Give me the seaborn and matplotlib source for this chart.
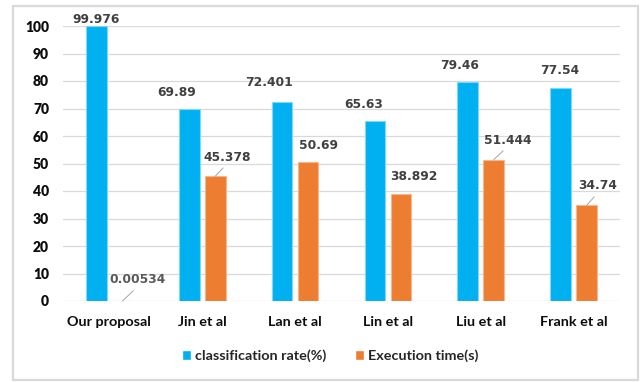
import matplotlib
matplotlib.use("Agg")
import matplotlib.pyplot as plt
from matplotlib.patches import Rectangle
import pandas as pd
import seaborn as sns

# Data
methods = ["Our proposal", "Jin et al", "Lan et al", "Lin et al", "Liu et al", "Frank et al"]
classification_rate = [99.976, 69.89, 72.401, 65.63, 79.46, 77.54]
execution_time = [0.00534, 45.378, 50.69, 38.892, 51.444, 34.74]
rate_labels = ["99.976", "69.89", "72.401", "65.63", "79.46", "77.54"]
time_labels = ["0.00534", "45.378", "50.69", "38.892", "51.444", "34.74"]
series_names = ["classification rate(%)", "Execution time(s)"]
y_ticks = [0, 10, 20, 30, 40, 50, 60, 70, 80, 90, 100]

BLUE = "#00B0F0"
ORANGE = "#ED7D31"
GRID = "#D9D9D9"
TEXT = "#404040"

df = pd.DataFrame({
    "method": methods * 2,
    "value": classification_rate + execution_time,
    "series": [series_names[0]] * len(methods) + [series_names[1]] * len(methods),
})

sns.set_theme(style="white")
plt.rcParams["font.family"] = ["DejaVu Sans"]

fig = plt.figure(figsize=(6.44, 3.82), dpi=100)
W, H = 644, 382
ax = fig.add_axes([63 / W, 1 - 301 / H, (620 - 63) / W, (301 - 26) / H])

sns.barplot(data=df, x="method", y="value", hue="series", order=methods,
            hue_order=series_names, palette=[BLUE, ORANGE], width=0.56, gap=0.2,
            saturation=1, ax=ax, legend=True)

ax.set_ylim(0, 100)
ax.set_xlim(-0.5, len(methods) - 0.5)
ax.set_yticks(y_ticks)
ax.set_yticklabels([str(t) for t in y_ticks], fontfamily="Lato", fontweight="heavy",
                   fontsize=10, color="#0D0D0D")
ax.set_xticks(range(len(methods)))
ax.set_xticklabels(methods, fontfamily="Lato", fontweight="bold", fontsize=10.4,
                   color="#0D0D0D")
ax.tick_params(axis="y", length=0, pad=10)
ax.tick_params(axis="x", length=0, pad=11)
ax.set_xlabel("")
ax.set_ylabel("")
ax.grid(axis="y", color=GRID, linewidth=0.9)
ax.set_axisbelow(True)
for s in ax.spines.values():
    s.set_visible(False)

rate_bars, time_bars = ax.containers[0], ax.containers[1]
# Thin lighter outlines on the bars
for bar in rate_bars:
    bar.set_edgecolor("#80D8F8")
    bar.set_linewidth(0.8)
for bar in time_bars:
    bar.set_edgecolor("#F6B68E")
    bar.set_linewidth(0.8)

# Value labels for the classification-rate bars
rate_nudge = [(0, 7), (-13, 16), (-13, 19), (-11, 16.5), (-8, 16.5), (-1, 17)]
for bar, lab, (dx, dy) in zip(rate_bars, rate_labels, rate_nudge):
    x = bar.get_x() + bar.get_width() / 2
    ax.annotate(lab, (x, bar.get_height()), xytext=(dx, dy), textcoords="offset pixels",
                ha="center", va="center", fontsize=8.8, fontweight="bold", color=TEXT,
                annotation_clip=False)

# Value labels for the execution-time bars, with leader lines where they sit away
time_nudge = [(15.5, 21), (12, 19), (10.5, 16), (12.5, 18), (14, 19.5), (11.5, 19.5)]
leader = [True, True, False, False, True, True]
for i, (bar, lab, (dx, dy)) in enumerate(zip(time_bars, time_labels, time_nudge)):
    x = bar.get_x() + bar.get_width() / 2
    props = None
    if leader[i]:
        props = dict(arrowstyle="-", color="#A6A6A6", lw=0.7, shrinkA=1, shrinkB=0,
                     relpos=(0.5, 0.0))
    ax.annotate(lab, (x, bar.get_height()), xytext=(dx, dy), textcoords="offset pixels",
                ha="center", va="center", fontsize=8.8,
                fontweight="semibold" if i == 0 else "bold",
                color="#595959" if i == 0 else TEXT,
                arrowprops=props, annotation_clip=False)

# Legend below the plot
handles, labels = ax.get_legend_handles_labels()
ax.get_legend().remove()
fig.legend(handles, labels, loc="center", bbox_to_anchor=(330 / W, 1 - 356 / H),
           ncol=2, frameon=False, handlelength=0.65, handleheight=0.65,
           handletextpad=0.25, columnspacing=2.0,
           prop=dict(family="Lato", weight="bold", size=10.4))

# Light outer frame around the chart
fig.patches.append(Rectangle((13 / W, 1 - 380 / H), (638 - 13) / W, (380 - 6) / H,
                             transform=fig.transFigure, fill=False,
                             edgecolor="#D9D9D9", linewidth=1.6))

fig.savefig("out.png", dpi=100, facecolor="white")
